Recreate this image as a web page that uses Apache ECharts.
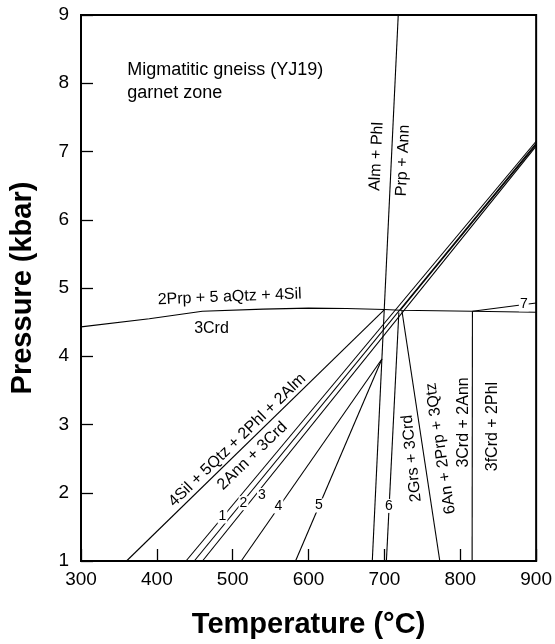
<!DOCTYPE html>
<html>
<head>
<meta charset="utf-8">
<script src="https://cdn.jsdelivr.net/npm/echarts@6/dist/echarts.min.js"></script>
<style>
  html, body { margin: 0; padding: 0; background: #fff; }
  #chart { width: 555px; height: 644px; }
</style>
</head>
<body>
<div id="chart"></div>
<script>
// axis ticks
const tempTicks = [300, 400, 500, 600, 700, 800, 900]
const pressTicks = [1, 2, 3, 4, 5, 6, 7, 8, 9]

// reaction curves, [T (°C), P (kbar)]
const crdCurve = [[300, 4.43], [390, 4.55], [460, 4.66], [540, 4.69], [600, 4.705], [650, 4.70], [700, 4.685], [721, 4.675], [816, 4.66], [900, 4.645]]
const almPhl = [[684, 1], [718.2, 9]]
const sil4 = [[360, 1], [699.7, 4.68]]
const r1 = [[438.4, 1], [900, 7.15]]
const r2 = [[449.3, 1], [900, 7.12]]
const r3 = [[460.1, 1], [900, 7.08]]
const rUpper = [[721, 4.675], [900, 7.10]]
const r4 = [[511.2, 1], [696.7, 3.96]]
const r5 = [[582.8, 1], [696.7, 3.96]]
const r6 = [[719, 4.64], [702.6, 1]]
const an6 = [[723, 4.67], [773, 1]]
const crd3 = [[816, 4.66], [815.6, 1]]
const r7 = [[816, 4.66], [900, 4.78]]

const curves = [crdCurve, almPhl, sil4, r1, r2, r3, rUpper, r4, r5, r6, an6, crd3, r7]

const FONT = '"Liberation Sans", Arial, sans-serif'

// text notes: text, [T, P], rotation (deg), size, align, gap
const notes = [
  ['Migmatitic gneiss (YJ19)', [361, 8.19], 0, 18, 'left'],
  ['garnet zone', [361, 7.855], 0, 18, 'left'],
  ['2Prp + 5 aQtz + 4Sil', [496, 4.87], 2.3, 16],
  ['3Crd', [472, 4.41], 0, 16],
  ['Alm + Phl', [689.6, 6.927], 87.3, 16],
  ['Prp + Ann', [724.4, 6.869], 87.3, 16],
  ['4Sil + 5Qtz + 2Phl + 2Alm', [506, 2.77], 44, 16],
  ['2Ann + 3Crd', [526, 2.54], 44, 16],
  ['2Grs + 3Crd', [736.1, 2.504], 96, 16],
  ['6An + 2Prp + 3Qtz', [774.3, 2.65], 98.6, 16],
  ['3Crd + 2Ann', [804.9, 3.03], 90, 16],
  ['3fCrd + 2Phl', [842, 2.97], 90, 16],
  ['1', [486.4, 1.653], 0, 14, 'center', true],
  ['2', [514.2, 1.847], 0, 14, 'center', true],
  ['3', [538.4, 1.968], 0, 14, 'center', true],
  ['4', [560.3, 1.80], 0, 14, 'center', true],
  ['5', [613.6, 1.813], 0, 14, 'center', true],
  ['6', [706, 1.807], 0, 14, 'center', true],
  ['7', [883.7, 4.76], 0, 14, 'center', true],
]

const chart = echarts.init(document.getElementById('chart'))

chart.setOption({
  animation: false,
  grid: {
    left: 77, right: 17, top: 15, bottom: 81,
    show: true, borderColor: '#000', borderWidth: 2,
  },
  xAxis: {
    type: 'value',
    min: tempTicks[0], max: tempTicks[tempTicks.length - 1], interval: 100,
    name: 'Temperature (°C)',
    nameLocation: 'middle',
    nameGap: 49,
    nameTextStyle: {fontFamily: FONT, fontSize: 29, fontWeight: 'bold', color: '#000'},
    axisLine: {show: true, lineStyle: {color: '#000', width: 2}},
    axisTick: {show: true, inside: true, length: 12, lineStyle: {color: '#000', width: 1.3}},
    axisLabel: {fontFamily: FONT, fontSize: 19, color: '#000', margin: 9},
    splitLine: {show: false},
  },
  yAxis: {
    type: 'value',
    min: pressTicks[0], max: pressTicks[pressTicks.length - 1], interval: 1,
    name: 'Pressure (kbar)',
    nameLocation: 'middle',
    nameGap: 44,
    nameTextStyle: {fontFamily: FONT, fontSize: 29, fontWeight: 'bold', color: '#000'},
    axisLine: {show: true, lineStyle: {color: '#000', width: 2}},
    axisTick: {show: true, inside: true, length: 12, lineStyle: {color: '#000', width: 1.3}},
    axisLabel: {fontFamily: FONT, fontSize: 19, color: '#000', margin: 12},
    splitLine: {show: false},
  },
  series: curves.map(c => ({
    type: 'line',
    data: c,
    symbol: 'none',
    silent: true,
    lineStyle: {color: '#000', width: 1.1},
  })),
})

// place the notes through the chart's own scales
chart.setOption({
  graphic: notes.map(([text, at, rot, size, align, gap]) => {
    const p = chart.convertToPixel({gridIndex: 0}, at)
    const style = {
      text,
      font: size + 'px ' + FONT,
      fill: '#000',
      align: align || 'center',
      verticalAlign: 'middle',
    }
    if (gap) {
      style.backgroundColor = '#fff'
      style.padding = [0, 1]
    }
    return {
      type: 'text',
      x: p[0], y: p[1],
      rotation: rot * Math.PI / 180,
      silent: true,
      z: 100,
      style,
    }
  }),
})
</script>
</body>
</html>
